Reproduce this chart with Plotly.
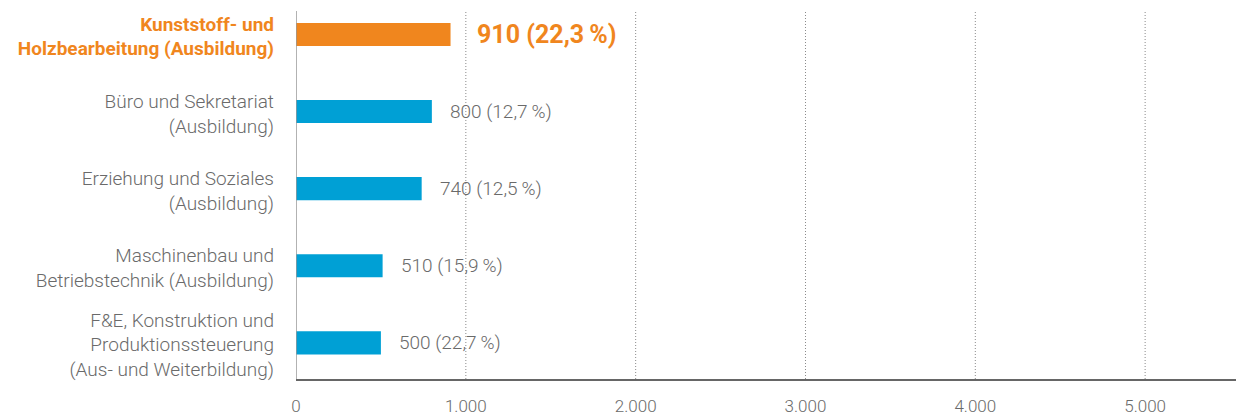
import plotly.graph_objects as go

# Categories (top to bottom), values and share labels
categories = [
    "Kunststoff- und<br>Holzbearbeitung (Ausbildung)",
    "Büro und Sekretariat<br>(Ausbildung)",
    "Erziehung und Soziales<br>(Ausbildung)",
    "Maschinenbau und<br>Betriebstechnik (Ausbildung)",
    "F&amp;E, Konstruktion und<br>Produktionssteuerung<br>(Aus- und Weiterbildung)",
]
values = [910, 800, 740, 510, 500]
shares = ["22,3", "12,7", "12,5", "15,9", "22,7"]
highlight = 0

x_ticks = [0, 1000, 2000, 3000, 4000, 5000]
x_tick_labels = ["0", "1.000", "2.000", "3.000", "4.000", "5.000"]

ORANGE = "#F0861E"
BLUE = "#00A0D5"
GREY = "#6a6a6a"
FONT = "Roboto"

colors = [ORANGE if i == highlight else BLUE for i in range(len(values))]
ticktext = [
    f"<span style='color:{ORANGE}'><b>{c}</b></span>" if i == highlight else c
    for i, c in enumerate(categories)
]

fig = go.Figure()
fig.add_trace(go.Bar(
    x=values,
    y=list(range(len(values))),
    orientation="h",
    width=0.3,
    marker=dict(color=colors, line=dict(width=0)),
    hoverinfo="skip",
))

# value labels next to bars
for i, (v, s) in enumerate(zip(values, shares)):
    hl = i == highlight
    fig.add_annotation(
        x=v, y=i, xref="x", yref="y",
        text=(f"<b>{v} ({s}\u2009%)</b>" if hl else f"{v} ({s}\u2009%)"),
        showarrow=False, xanchor="left", yanchor="middle",
        xshift=24 if hl else 16,
        font=dict(family=FONT, size=25 if hl else 19,
                  color=ORANGE if hl else GREY, weight=None if hl else 300),
    )

# dotted vertical gridlines
grid_top = 1 - 11 / 379
for t in x_ticks[1:]:
    fig.add_shape(type="line", xref="x", yref="paper",
                  x0=t, x1=t, y0=0, y1=grid_top,
                  line=dict(color="#8a8a8a", width=1, dash="1px,2px"), layer="below")
# vertical axis line at zero
fig.add_shape(type="line", xref="x", yref="paper", x0=0, x1=0, y0=0, y1=grid_top,
              line=dict(color="#999999", width=1.5), layer="above")

fig.update_layout(
    width=1236, height=417,
    margin=dict(l=296, r=0, t=0, b=38),
    paper_bgcolor="white", plot_bgcolor="white",
    showlegend=False,
    font=dict(family=FONT, color=GREY),
    xaxis=dict(
        range=[0, 5535],
        tickvals=x_ticks, ticktext=x_tick_labels,
        showgrid=False, zeroline=False,
        showline=True, linecolor="#666666", linewidth=1.5,
        ticks="", ticklabelstandoff=11, automargin=False,
        tickfont=dict(family=FONT, size=17, color=GREY, weight=300),
    ),
    yaxis=dict(
        range=[4.469, -0.447],
        tickvals=list(range(len(values))), ticktext=ticktext,
        showgrid=False, zeroline=False, showline=False,
        ticks="", ticklabelstandoff=21, ticklabelshift=-2, automargin=False,
        tickfont=dict(family=FONT, size=19, color=GREY, weight=300),
    ),
)

fig.write_html("out.html")
